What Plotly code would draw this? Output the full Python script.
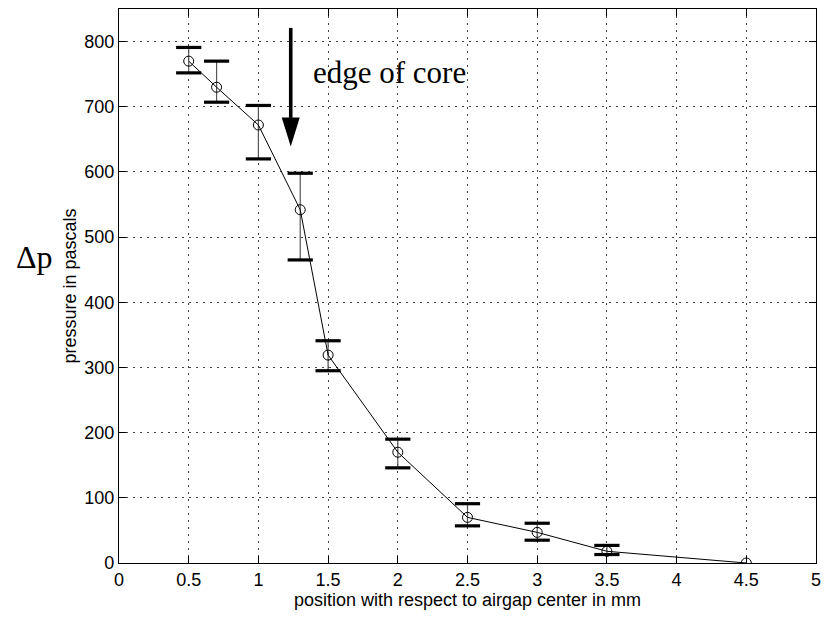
import plotly.graph_objects as go

# Data
position_mm = [0.5, 0.7, 1.0, 1.3, 1.5, 2.0, 2.5, 3.0, 3.5, 4.5]
pressure_pa = [770, 730, 672, 542, 319, 170, 70, 47, 18, 0]
err_upper = [791, 770, 702, 598, 341, 190, 91, 61, 27, None]
err_lower = [752, 707, 620, 465, 295, 146, 57, 35, 13, None]

x_ticks = [0, 0.5, 1, 1.5, 2, 2.5, 3, 3.5, 4, 4.5, 5]
y_ticks = [0, 100, 200, 300, 400, 500, 600, 700, 800]

# arrow annotation anchor (data units)
arrow_x = 1.232
arrow_tail_y = 821
arrow_base_y = 683
arrow_tip_y = 639

plus = [(u - p) if u is not None else None for u, p in zip(err_upper, pressure_pa)]
minus = [(p - l) if l is not None else None for l, p in zip(err_lower, pressure_pa)]

fig = go.Figure()

# thin vertical error bars
fig.add_trace(go.Scatter(
    x=position_mm, y=pressure_pa, mode="none",
    error_y=dict(type="data", symmetric=False, array=plus, arrayminus=minus,
                 color="#555555", thickness=1.2, width=0),
    showlegend=False, hoverinfo="skip"))

# thick caps
cap_x = [x for x, u in zip(position_mm, err_upper) if u is not None]
cap_x = cap_x + cap_x
cap_y = [u for u in err_upper if u is not None] + [l for l in err_lower if l is not None]
fig.add_trace(go.Scatter(
    x=cap_x, y=cap_y, mode="markers",
    marker=dict(symbol="line-ew", size=18, line=dict(width=3.2, color="black")),
    showlegend=False, hoverinfo="skip"))

# line + open circles
fig.add_trace(go.Scatter(
    x=position_mm, y=pressure_pa, mode="lines+markers",
    line=dict(color="black", width=1),
    marker=dict(symbol="circle-open", size=10, color="black", line=dict(width=1)),
    showlegend=False))

# arrow shaft
fig.add_shape(type="line", xref="x", yref="y",
              x0=arrow_x, x1=arrow_x, y0=arrow_tail_y, y1=arrow_base_y,
              line=dict(color="black", width=3.6))
# arrow head (pixel-sized triangle anchored at the tip)
fig.add_shape(type="path", xref="x", yref="y",
              xsizemode="pixel", ysizemode="pixel",
              xanchor=arrow_x, yanchor=arrow_tip_y,
              path="M -9,29 L 9,29 L 0,0 Z",
              fillcolor="black", line=dict(color="black", width=0))

fig.add_annotation(x=1.94, y=752, xref="x", yref="y", text="edge of core",
                   showarrow=False, xanchor="center", yanchor="middle",
                   font=dict(family="Liberation Serif, Times New Roman, serif", size=31, color="black"))

fig.add_annotation(x=-0.121, y=0.552, xref="paper", yref="paper", text="Δp",
                   showarrow=False, xanchor="center", yanchor="middle",
                   font=dict(family="Liberation Serif, Times New Roman, serif", size=32, color="black"))

axis_font = dict(family="Liberation Sans, Arial, Helvetica, sans-serif", size=18, color="black")

fig.update_layout(
    width=828, height=619,
    margin=dict(l=119, r=7, t=9, b=56),
    paper_bgcolor="white", plot_bgcolor="white",
    font=axis_font,
    xaxis=dict(
        range=[0, 5], tickvals=x_ticks, ticktext=[f"{v:g}" for v in x_ticks],
        showgrid=True, gridcolor="#444444", griddash="1.5px,5.5px", gridwidth=1,
        zeroline=False, showline=True, linecolor="black", linewidth=1.2,
        mirror="ticks", ticks="inside", ticklen=7, tickcolor="black",
        tickfont=axis_font,
        title=dict(text="position with respect to airgap center in mm", font=axis_font, standoff=2),
    ),
    yaxis=dict(
        range=[0, 850], tickvals=y_ticks,
        showgrid=True, gridcolor="#444444", griddash="1.5px,5.5px", gridwidth=1,
        zeroline=False, showline=True, linecolor="black", linewidth=1.2,
        mirror="ticks", ticks="inside", ticklen=7, tickcolor="black",
        tickfont=axis_font,
        title=dict(text="pressure in pascals", font=axis_font, standoff=2),
    ),
)

fig.write_html("out.html")
